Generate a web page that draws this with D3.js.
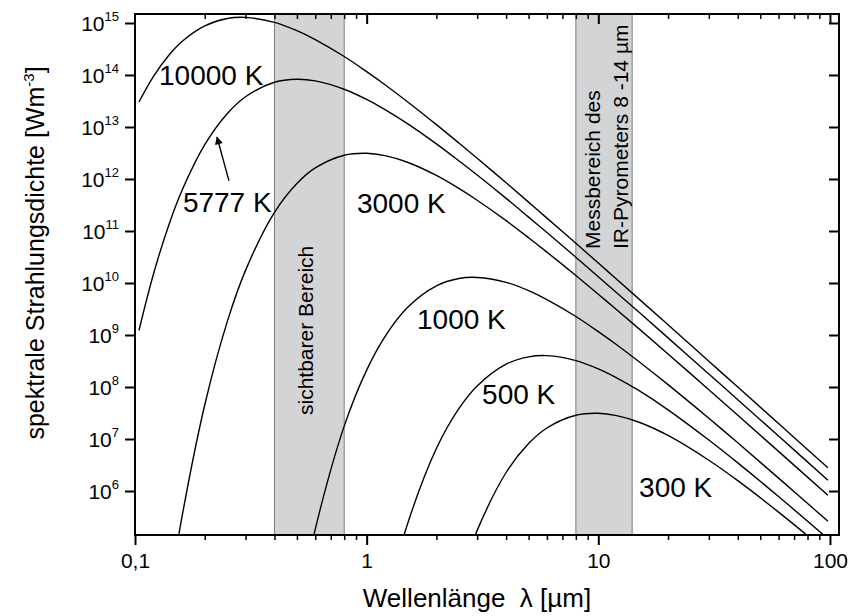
<!DOCTYPE html>
<html>
<head>
<meta charset="utf-8">
<script src="https://cdn.jsdelivr.net/npm/d3@7"></script>
<style>
  body { margin: 0; background: #fff; }
  text { font-family: "Liberation Sans", Arial, sans-serif; fill: #000; }
</style>
</head>
<body>
<svg id="chart"></svg>
<script>
// wavelength grid in µm
const wavelengths = [0.104, 0.12, 0.14, 0.16, 0.2, 0.25, 0.3, 0.4, 0.5, 0.6, 0.8, 1, 1.2, 1.5, 2, 2.5, 3, 4, 5, 6, 8, 10, 12, 15, 20, 30, 40, 60, 98];

// spectral radiance values [W m^-3]
const m10000 = [3.02e13, 9.33e13, 2.39e14, 4.44e14, 8.79e14, 1.22e15, 1.28e15, 1.03e15, 7.14e14, 4.81e14, 2.27e14, 1.16e14, 6.49e13, 3.06e13, 1.11e13, 4.92e12, 2.50e12, 8.45e11, 3.59e11, 1.77e11, 5.81e10, 2.42e10, 1.18e10, 4.90e9, 1.57e9, 3.13e8, 9.98e7, 1.98e7, 2.80e6];
const m5777 = [1.22e9, 1.46e10, 1.31e11, 6.19e11, 4.57e12, 1.80e13, 3.82e13, 7.24e13, 8.28e13, 7.69e13, 5.32e13, 3.38e13, 2.16e13, 1.16e13, 4.73e12, 2.24e12, 1.19e12, 4.24e11, 1.85e11, 9.35e10, 3.13e10, 1.32e10, 6.52e9, 2.73e9, 8.81e8, 1.78e8, 5.69e7, 1.14e7, 1.61e6];
const m3000 = [null, null, 9.20e3, 3.42e5, 4.51e7, 1.79e9, 1.75e10, 2.27e11, 8.17e11, 1.63e12, 2.86e12, 3.12e12, 2.81e12, 2.10e12, 1.17e12, 6.59e11, 3.90e11, 1.58e11, 7.43e10, 3.93e10, 1.39e10, 6.08e9, 3.06e9, 1.31e9, 4.32e8, 8.87e7, 2.87e7, 5.78e6, 8.26e5];
const m1000 = [null, null, null, null, null, null, null, null, 3.81e3, 1.85e5, 1.77e7, 2.11e8, 9.33e8, 3.37e9, 8.79e9, 1.22e10, 1.28e10, 1.03e10, 7.14e9, 4.81e9, 2.27e9, 1.16e9, 6.49e8, 3.06e8, 1.11e8, 2.50e7, 8.45e6, 1.77e6, 2.62e5];
const m500 = [null, null, null, null, null, null, null, null, null, null, null, null, 5.79e3, 2.30e5, 6.59e6, 3.84e7, 1.05e8, 2.75e8, 3.80e8, 4.01e8, 3.22e8, 2.23e8, 1.50e8, 8.49e7, 3.64e7, 9.55e6, 3.47e6, 7.82e5, 1.21e5];
const m300 = [null, null, null, null, null, null, null, null, null, null, null, null, null, null, null, 1.79e4, 1.75e5, 2.27e6, 8.17e6, 1.63e7, 2.86e7, 3.12e7, 2.81e7, 2.10e7, 1.17e7, 3.90e6, 1.58e6, 3.93e5, 6.56e4];

const series = [m10000, m5777, m3000, m1000, m500, m300];

// shaded ranges in µm
const bandVisible = [0.4, 0.8];
const bandIR = [8, 14];

const xMajorTicks = [0.1, 1, 10, 100];
const xTickLabels = ['0,1', '1', '10', '100'];
const xMinorTicks = [0.2, 0.3, 0.4, 0.5, 0.6, 0.7, 0.8, 0.9, 2, 3, 4, 5, 6, 7, 8, 9, 20, 30, 40, 50, 60, 70, 80, 90];
const yTicks = [1e6, 1e7, 1e8, 1e9, 1e10, 1e11, 1e12, 1e13, 1e14, 1e15];
const yTickExponents = ['6', '7', '8', '9', '10', '11', '12', '13', '14', '15'];

// curve labels, anchored in data space (wavelength, value)
const curveLabels = ['10000 K', '5777 K', '3000 K', '1000 K', '500 K', '300 K'];
const labelLambda = [0.127, 0.161, 0.908, 1.65, 3.15, 15];
const labelValue = [6.4e13, 2.3e11, 2.2e11, 1.3e9, 4.7e7, 7.7e5];

const width = 863;
const height = 616;

const svg = d3.select('#chart')
  .attr('width', width)
  .attr('height', height);

const x = d3.scaleLog().domain([0.1, 109.4]).range([135, 839]);
const y = d3.scaleLog().domain([1.426e5, 1.489e15]).range([535, 14]);

const [x0, x1] = x.range();
const [y0, y1] = y.range();

svg.append('defs').append('clipPath').attr('id', 'plot-clip')
  .append('rect')
  .attr('x', x0).attr('y', y1)
  .attr('width', x1 - x0).attr('height', y0 - y1);

svg.append('defs').append('marker')
  .attr('id', 'arrow')
  .attr('viewBox', '0 0 10 10')
  .attr('refX', 9).attr('refY', 5)
  .attr('markerWidth', 11).attr('markerHeight', 8)
  .attr('markerUnits', 'userSpaceOnUse')
  .attr('orient', 'auto')
  .append('path')
  .attr('d', 'M0,0 L10,5 L0,10 Z')
  .attr('fill', '#000');

// shaded bands
svg.append('g')
  .selectAll('rect')
  .data([bandVisible, bandIR])
  .join('rect')
  .attr('x', d => x(d[0]))
  .attr('y', y1)
  .attr('width', d => x(d[1]) - x(d[0]))
  .attr('height', y0 - y1)
  .attr('fill', '#d3d4d6')
  .attr('stroke', '#7d7d7d')
  .attr('stroke-width', 1);

// band labels
svg.append('text')
  .attr('transform', 'translate(313, 415) rotate(-90)')
  .attr('font-size', 21)
  .attr('fill', '#222')
  .text('sichtbarer Bereich');

const irText = svg.append('g').attr('font-size', 21).attr('fill', '#222');
irText.append('text')
  .attr('transform', 'translate(600, 249) rotate(-90)')
  .text('Messbereich des');
irText.append('text')
  .attr('transform', 'translate(628, 249) rotate(-90)')
  .text('IR-Pyrometers 8 -14 µm');

// Planck curves
const line = d3.line()
  .defined(d => d[1] != null)
  .x(d => x(d[0]))
  .y(d => y(d[1]))
  .curve(d3.curveCatmullRom.alpha(0.5));

svg.append('g')
  .attr('clip-path', 'url(#plot-clip)')
  .selectAll('path')
  .data(series)
  .join('path')
  .attr('d', s => line(wavelengths.map((l, i) => [l, s[i]])))
  .attr('fill', 'none')
  .attr('stroke', '#000')
  .attr('stroke-width', 1.4);

// axes
function styleTicks(g, w) {
  g.select('.domain').remove();
  g.selectAll('.tick line').attr('stroke', '#000').attr('stroke-width', w);
}

svg.append('g')
  .attr('transform', `translate(0, ${y0})`)
  .call(d3.axisBottom(x).tickValues(xMinorTicks).tickSize(5).tickFormat(''))
  .call(g => styleTicks(g, 1.5));

svg.append('g')
  .attr('transform', `translate(0, ${y0})`)
  .call(d3.axisBottom(x).tickValues(xMajorTicks).tickSize(10).tickPadding(8)
    .tickFormat((d, i) => xTickLabels[i]))
  .call(g => styleTicks(g, 2))
  .call(g => g.selectAll('.tick text')
    .attr('font-size', 21)
    .attr('font-family', '"Liberation Sans", Arial, sans-serif')
    .attr('fill', '#000'));

svg.append('g')
  .attr('transform', `translate(0, ${y1})`)
  .call(d3.axisTop(x).tickValues(xMinorTicks).tickSize(-5).tickFormat(''))
  .call(g => styleTicks(g, 1.5));

svg.append('g')
  .attr('transform', `translate(0, ${y1})`)
  .call(d3.axisTop(x).tickValues(xMajorTicks.slice(1)).tickSize(-10).tickFormat(''))
  .call(g => styleTicks(g, 2));

svg.append('g')
  .attr('transform', `translate(${x0}, 0)`)
  .call(d3.axisLeft(y).tickValues(yTicks).tickSize(10).tickFormat(''))
  .call(g => styleTicks(g, 2));

svg.append('g')
  .attr('transform', `translate(${x1}, 0)`)
  .call(d3.axisRight(y).tickValues(yTicks).tickSize(-10).tickFormat(''))
  .call(g => styleTicks(g, 2));

// frame
svg.append('rect')
  .attr('x', x0).attr('y', y1)
  .attr('width', x1 - x0).attr('height', y0 - y1)
  .attr('fill', 'none')
  .attr('stroke', '#000')
  .attr('stroke-width', 2);

// y tick labels with superscript exponents
const yLabel = svg.append('g')
  .selectAll('text')
  .data(yTicks)
  .join('text')
  .attr('x', 119)
  .attr('y', d => y(d) + 8)
  .attr('text-anchor', 'end')
  .attr('font-size', 21);
yLabel.append('tspan').text('10');
yLabel.append('tspan')
  .attr('dy', -10)
  .attr('font-size', 13)
  .text((d, i) => yTickExponents[i]);

// curve labels
svg.append('g')
  .selectAll('text')
  .data(curveLabels)
  .join('text')
  .attr('x', (d, i) => x(labelLambda[i]))
  .attr('y', (d, i) => y(labelValue[i]))
  .attr('font-size', 28)
  .text(d => d);

// arrow pointing at the 5777 K curve
svg.append('line')
  .attr('x1', x(0.2545)).attr('y1', y(9.2e11))
  .attr('x2', x(0.226)).attr('y2', y(6.4e12))
  .attr('stroke', '#000')
  .attr('stroke-width', 1.4)
  .attr('marker-end', 'url(#arrow)');

// axis titles
svg.append('text')
  .attr('x', 477)
  .attr('y', 607)
  .attr('text-anchor', 'middle')
  .attr('font-size', 26)
  .attr('xml:space', 'preserve')
  .style('white-space', 'pre')
  .text('Wellenlänge  λ [µm]');

const yTitle = svg.append('text')
  .attr('transform', 'translate(44, 253) rotate(-90)')
  .attr('text-anchor', 'middle')
  .attr('font-size', 25);
yTitle.append('tspan').text('spektrale Strahlungsdichte [Wm');
yTitle.append('tspan').attr('dy', -10).attr('font-size', 15).text('-3');
yTitle.append('tspan').attr('dy', 10).text(']');
</script>
</body>
</html>
